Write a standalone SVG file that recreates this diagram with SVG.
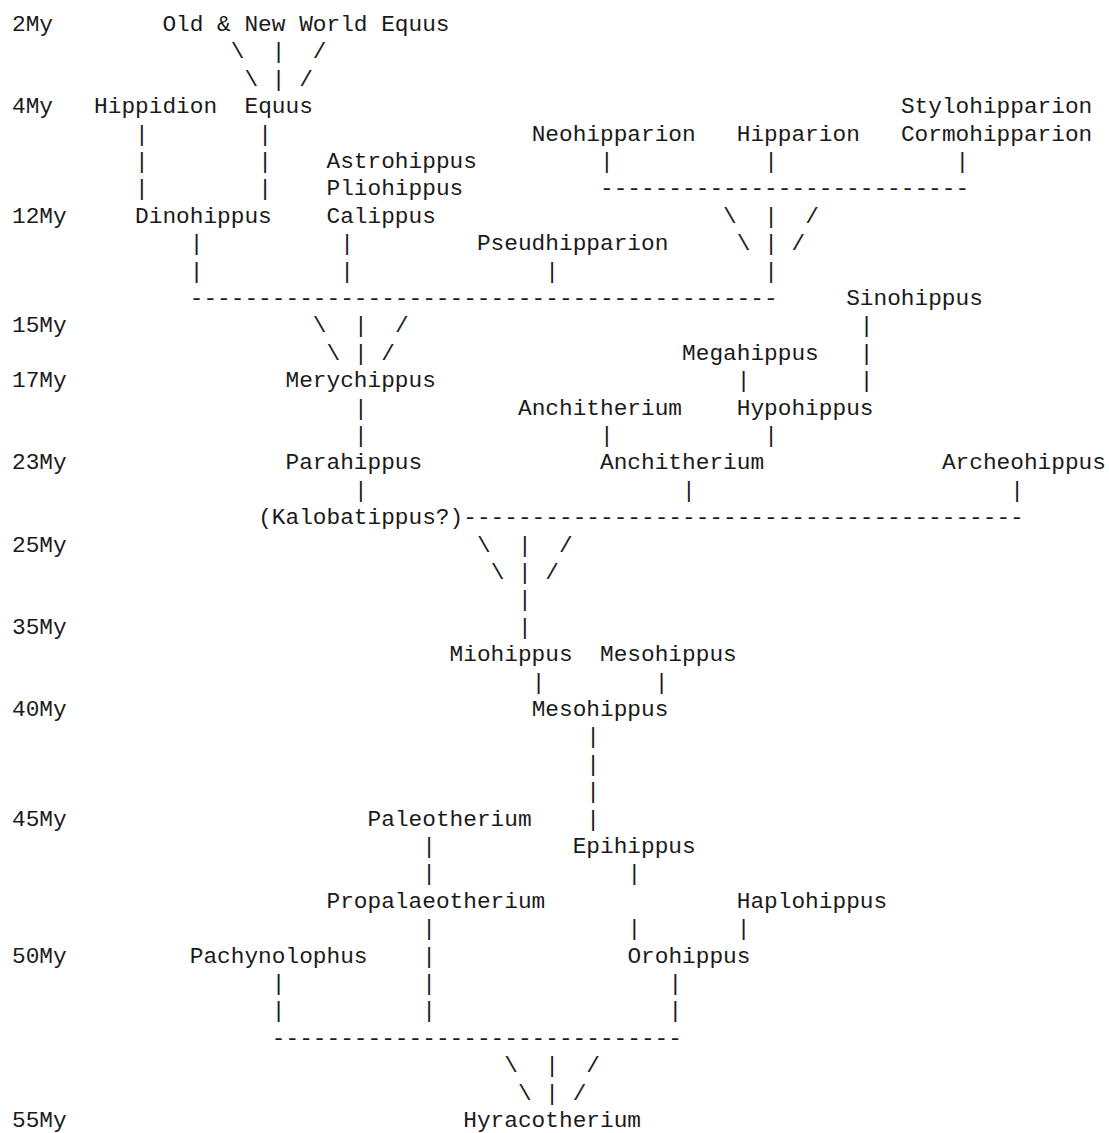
<svg xmlns="http://www.w3.org/2000/svg" width="1109" height="1133" viewBox="0 0 1109 1133">
<style>
text{font-family:"Liberation Mono","Courier New",monospace;font-size:22.79px;fill:#1a1a1a;white-space:pre}
</style>
<rect width="1109" height="1133" fill="#ffffff"/>
<g id="time-axis">
<text x="12" y="31">2My</text>
<text x="12" y="113.2">4My</text>
<text x="12" y="222.8">12My</text>
<text x="12" y="332.4">15My</text>
<text x="12" y="387.2">17My</text>
<text x="12" y="469.4">23My</text>
<text x="12" y="551.6">25My</text>
<text x="12" y="633.8">35My</text>
<text x="12" y="716">40My</text>
<text x="12" y="825.6">45My</text>
<text x="12" y="962.6">50My</text>
<text x="12" y="1127">55My</text>
</g>
<g id="connectors">
<text x="230.8" y="58.4">\</text><text x="271.83" y="58.4">|</text><text x="312.85" y="58.4">/</text>
<text x="244.48" y="85.8">\</text><text x="271.83" y="85.8">|</text><text x="299.18" y="85.8">/</text>
<text x="135.08" y="140.6">|</text><text x="258.15" y="140.6">|</text>
<text x="135.08" y="168">|</text><text x="258.15" y="168">|</text><text x="600.03" y="168">|</text><text x="764.13" y="168">|</text><text x="955.58" y="168">|</text>
<text x="135.08" y="195.4">|</text><text x="258.15" y="195.4">|</text><text x="600.03" y="195.4">---------------------------</text>
<text x="723.1" y="222.8">\</text><text x="764.13" y="222.8">|</text><text x="805.15" y="222.8">/</text>
<text x="189.78" y="250.2">|</text><text x="340.2" y="250.2">|</text><text x="736.78" y="250.2">\</text><text x="764.13" y="250.2">|</text><text x="791.48" y="250.2">/</text>
<text x="189.78" y="277.6">|</text><text x="340.2" y="277.6">|</text><text x="545.33" y="277.6">|</text><text x="764.13" y="277.6">|</text>
<text x="189.78" y="305">-------------------------------------------</text>
<text x="312.85" y="332.4">\</text><text x="353.88" y="332.4">|</text><text x="394.9" y="332.4">/</text><text x="859.85" y="332.4">|</text>
<text x="326.53" y="359.8">\</text><text x="353.88" y="359.8">|</text><text x="381.23" y="359.8">/</text><text x="859.85" y="359.8">|</text>
<text x="736.78" y="387.2">|</text><text x="859.85" y="387.2">|</text>
<text x="353.88" y="414.6">|</text>
<text x="353.88" y="442">|</text><text x="600.03" y="442">|</text><text x="764.13" y="442">|</text>
<text x="353.88" y="496.8">|</text><text x="682.08" y="496.8">|</text><text x="1010.28" y="496.8">|</text>
<text x="463.28" y="524.2">-----------------------------------------</text>
<text x="476.95" y="551.6">\</text><text x="517.98" y="551.6">|</text><text x="559" y="551.6">/</text>
<text x="490.63" y="579">\</text><text x="517.98" y="579">|</text><text x="545.33" y="579">/</text>
<text x="517.98" y="606.4">|</text>
<text x="517.98" y="633.8">|</text>
<text x="531.65" y="688.6">|</text><text x="654.73" y="688.6">|</text>
<text x="586.35" y="743.4">|</text>
<text x="586.35" y="770.8">|</text>
<text x="586.35" y="798.2">|</text>
<text x="586.35" y="825.6">|</text>
<text x="422.25" y="853">|</text>
<text x="422.25" y="880.4">|</text><text x="627.38" y="880.4">|</text>
<text x="422.25" y="935.2">|</text><text x="627.38" y="935.2">|</text><text x="736.78" y="935.2">|</text>
<text x="422.25" y="962.6">|</text>
<text x="271.83" y="990">|</text><text x="422.25" y="990">|</text><text x="668.4" y="990">|</text>
<text x="271.83" y="1017.4">|</text><text x="422.25" y="1017.4">|</text><text x="668.4" y="1017.4">|</text>
<text x="271.83" y="1044.8">------------------------------</text>
<text x="504.3" y="1072.2">\</text><text x="545.33" y="1072.2">|</text><text x="586.35" y="1072.2">/</text>
<text x="517.98" y="1099.6">\</text><text x="545.33" y="1099.6">|</text><text x="572.68" y="1099.6">/</text>
</g>
<g id="node-old-new-world-equus"><text x="162.43" y="31">Old &amp; New World Equus</text></g>
<g id="node-hippidion"><text x="94.05" y="113.2">Hippidion</text></g>
<g id="node-equus"><text x="244.48" y="113.2">Equus</text></g>
<g id="node-stylohipparion"><text x="900.88" y="113.2">Stylohipparion</text></g>
<g id="node-neohipparion"><text x="531.65" y="140.6">Neohipparion</text></g>
<g id="node-hipparion"><text x="736.78" y="140.6">Hipparion</text></g>
<g id="node-cormohipparion"><text x="900.88" y="140.6">Cormohipparion</text></g>
<g id="node-astrohippus"><text x="326.53" y="168">Astrohippus</text></g>
<g id="node-pliohippus"><text x="326.53" y="195.4">Pliohippus</text></g>
<g id="node-dinohippus"><text x="135.08" y="222.8">Dinohippus</text></g>
<g id="node-calippus"><text x="326.53" y="222.8">Calippus</text></g>
<g id="node-pseudhipparion"><text x="476.95" y="250.2">Pseudhipparion</text></g>
<g id="node-sinohippus"><text x="846.18" y="305">Sinohippus</text></g>
<g id="node-megahippus"><text x="682.08" y="359.8">Megahippus</text></g>
<g id="node-merychippus"><text x="285.5" y="387.2">Merychippus</text></g>
<g id="node-anchitherium-1"><text x="517.98" y="414.6">Anchitherium</text></g>
<g id="node-hypohippus"><text x="736.78" y="414.6">Hypohippus</text></g>
<g id="node-parahippus"><text x="285.5" y="469.4">Parahippus</text></g>
<g id="node-anchitherium-2"><text x="600.03" y="469.4">Anchitherium</text></g>
<g id="node-archeohippus"><text x="941.9" y="469.4">Archeohippus</text></g>
<g id="node-kalobatippus"><text x="258.15" y="524.2">(Kalobatippus?)</text></g>
<g id="node-miohippus"><text x="449.6" y="661.2">Miohippus</text></g>
<g id="node-mesohippus-1"><text x="600.03" y="661.2">Mesohippus</text></g>
<g id="node-mesohippus-2"><text x="531.65" y="716">Mesohippus</text></g>
<g id="node-paleotherium"><text x="367.55" y="825.6">Paleotherium</text></g>
<g id="node-epihippus"><text x="572.68" y="853">Epihippus</text></g>
<g id="node-propalaeotherium"><text x="326.53" y="907.8">Propalaeotherium</text></g>
<g id="node-haplohippus"><text x="736.78" y="907.8">Haplohippus</text></g>
<g id="node-pachynolophus"><text x="189.78" y="962.6">Pachynolophus</text></g>
<g id="node-orohippus"><text x="627.38" y="962.6">Orohippus</text></g>
<g id="node-hyracotherium"><text x="463.28" y="1127">Hyracotherium</text></g>
</svg>
